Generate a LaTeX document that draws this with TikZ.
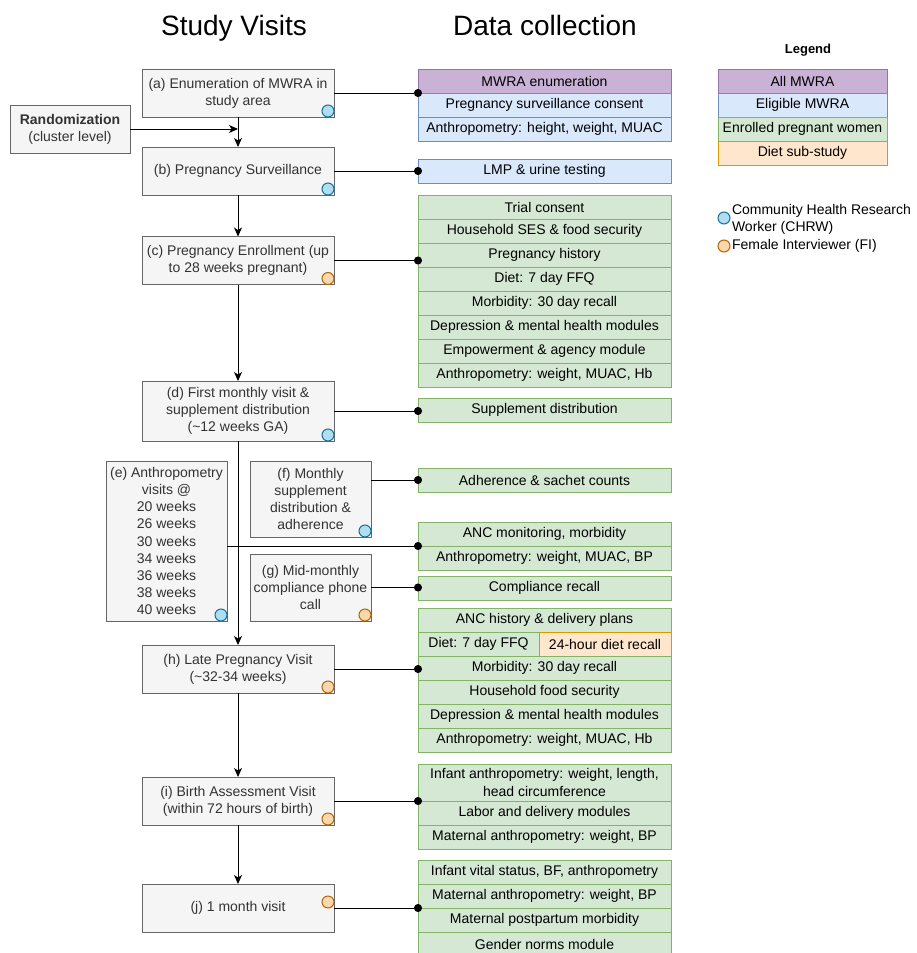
\documentclass[tikz,border=0pt]{standalone}
\usepackage{fontspec}
\setmainfont{Liberation Sans}
\usetikzlibrary{arrows.meta,calc}
\definecolor{gfill}{HTML}{F5F5F5}
\definecolor{gdraw}{HTML}{666666}
\definecolor{gtext}{HTML}{333333}
\definecolor{pfill}{HTML}{C9B2D6}
\definecolor{pdraw}{HTML}{9673A6}
\definecolor{bfill}{HTML}{DAE8FC}
\definecolor{bdraw}{HTML}{6C8EBF}
\definecolor{grfill}{HTML}{D5E8D4}
\definecolor{grdraw}{HTML}{82B366}
\definecolor{ofill}{HTML}{FFE6CC}
\definecolor{odraw}{HTML}{D79B00}
\definecolor{cbfill}{HTML}{B1DDF0}
\definecolor{cbdraw}{HTML}{10739E}
\definecolor{cofill}{HTML}{FAD7AC}
\definecolor{codraw}{HTML}{B46504}
\begin{document}
\begin{tikzpicture}[x=1pt,y=-1pt,
  every node/.style={font=\fontsize{14}{17.2}\selectfont, outer sep=0pt},
  visit/.style={draw=gdraw, fill=gfill, text=gtext, align=center, inner sep=0pt, line width=1pt},
  datarow/.style={draw, inner sep=0pt, anchor=north west, minimum width=253pt, minimum height=24pt, line width=1pt, align=center},
  rowP/.style={datarow, fill=pfill, draw=pdraw},
  rowB/.style={datarow, fill=bfill, draw=bdraw},
  rowG/.style={datarow, fill=grfill, draw=grdraw},
  rowO/.style={datarow, fill=ofill, draw=odraw},
  conn/.style={line width=1pt, black},
  arr/.style={conn, -{Stealth[length=9pt,width=8pt,inset=2.5pt]}},
  dotted end/.style={conn, -{Circle[length=8pt]}, shorten >=-4pt},
  chrw/.style={circle, draw=cbdraw, fill=cbfill, minimum size=12pt, inner sep=0pt, line width=1pt},
  fiw/.style={circle, draw=codraw, fill=cofill, minimum size=12pt, inner sep=0pt, line width=1pt},
]
\path[use as bounding box, clip] (0,0) rectangle (917,953);

% titles
\node[font=\fontsize{28}{33}\selectfont, anchor=base] (t1) at (234,35) {Study Visits};
\node[font=\fontsize{28}{33}\selectfont, anchor=base] (t2) at (545,35) {Data collection};
\node[font=\bfseries\fontsize{13}{15}\selectfont] (lt) at (808,50) {Legend};

% study visits
\node[visit, minimum width=192pt, minimum height=48pt] (a) at (238,93) {(a) Enumeration of MWRA in\\study area};
\node[visit, minimum width=120pt, minimum height=48pt] (rand) at (70,129) {\textbf{Randomization}\\(cluster level)};
\node[visit, minimum width=192pt, minimum height=48pt] (b) at (238,171) {(b) Pregnancy Surveillance};
\node[visit, minimum width=192pt, minimum height=48pt] (c) at (238,260.5) {(c) Pregnancy Enrollment (up\\to 28 weeks pregnant)};
\node[visit, minimum width=192pt, minimum height=60pt] (d) at (238,411) {(d) First monthly visit \&\\supplement distribution\\(\textasciitilde12 weeks GA)};
\node[visit, minimum width=121pt, minimum height=160pt] (e) at (166.5,541) {(e) Anthropometry\\visits @\\20 weeks\\26 weeks\\30 weeks\\34 weeks\\36 weeks\\38 weeks\\40 weeks};
\node[visit, minimum width=121pt, minimum height=76pt] (f) at (310.5,499) {(f) Monthly\\supplement\\distribution \&\\adherence};
\node[visit, minimum width=121pt, minimum height=67pt] (g) at (310.5,587.5) {(g) Mid-monthly\\compliance phone\\call};
\node[visit, minimum width=192pt, minimum height=48pt] (h) at (238,669) {(h) Late Pregnancy Visit\\(\textasciitilde32-34 weeks)};
\node[visit, minimum width=192pt, minimum height=48pt] (i) at (238,801) {(i) Birth Assessment Visit\\(within 72 hours of birth)};
\node[visit, minimum width=192pt, minimum height=48pt] (j) at (238,908) {(j) 1 month visit};

% worker circles
\node[chrw] (ca) at (328,111) {};
\node[chrw] (cb) at (328,189) {};
\node[fiw]  (cc) at (328,278.5) {};
\node[chrw] (cd) at (328,435) {};
\node[chrw] (ce) at (221,615) {};
\node[chrw] (cf) at (365,531) {};
\node[fiw]  (cg) at (365,615) {};
\node[fiw]  (ch) at (328,687) {};
\node[fiw]  (ci) at (328,819) {};
\node[fiw]  (cj) at (328,902) {};

% data collection
\node[rowP] (a1) at (418,69) {MWRA enumeration};
\node[rowB] (a2) at (418,93) {Pregnancy surveillance consent};
\node[rowB] (a3) at (418,117) {Anthropometry: height, weight, MUAC};

\node[rowB] (b1) at (418,159) {LMP \& urine testing};

\node[rowG] (c1) at (418,195) {Trial consent};
\node[rowG] (c2) at (418,219) {Household SES \& food security};
\node[rowG] (c3) at (418,243) {Pregnancy history};
\node[rowG] (c4) at (418,267) {Diet: 7 day FFQ};
\node[rowG] (c5) at (418,291) {Morbidity: 30 day recall};
\node[rowG] (c6) at (418,315) {Depression \& mental health modules};
\node[rowG] (c7) at (418,339) {Empowerment \& agency module};
\node[rowG] (c8) at (418,363) {Anthropometry: weight, MUAC, Hb};

\node[rowG] (d1) at (418,398) {Supplement distribution};
\node[rowG] (f1) at (418,468) {Adherence \& sachet counts};
\node[rowG] (e1) at (418,522) {ANC monitoring, morbidity};
\node[rowG] (e2) at (418,546) {Anthropometry: weight, MUAC, BP};
\node[rowG] (g1) at (418,576) {Compliance recall};

\node[rowG] (h1) at (418,608) {ANC history \& delivery plans};
\node[rowG, minimum width=121pt] (h2) at (418,632) {Diet: 7 day FFQ};
\node[rowO, minimum width=132pt] (h2b) at (539,632) {24-hour diet recall};
\node[rowG] (h3) at (418,656) {Morbidity: 30 day recall};
\node[rowG] (h4) at (418,680) {Household food security};
\node[rowG] (h5) at (418,704) {Depression \& mental health modules};
\node[rowG] (h6) at (418,728) {Anthropometry: weight, MUAC, Hb};

\node[rowG, minimum height=37pt] (i1) at (418,764) {Infant anthropometry: weight, length,\\head circumference};
\node[rowG] (i2) at (418,801) {Labor and delivery modules};
\node[rowG] (i3) at (418,825) {Maternal anthropometry: weight, BP};

\node[rowG] (j1) at (418,860) {Infant vital status, BF, anthropometry};
\node[rowG] (j2) at (418,884) {Maternal anthropometry: weight, BP};
\node[rowG] (j3) at (418,908) {Maternal postpartum morbidity};
\node[rowG] (j4) at (418,932) {Gender norms module};

% legend
\node[rowP, minimum width=169pt] (l1) at (718,69) {All MWRA};
\node[rowB, minimum width=169pt] (l2) at (718,93) {Eligible MWRA};
\node[rowG, minimum width=169pt] (l3) at (718,117) {Enrolled pregnant women};
\node[rowO, minimum width=169pt] (l4) at (718,141) {Diet sub-study};
\node[chrw] (lc1) at (724,218) {};
\node[fiw]  (lc2) at (724,246) {};
\node[anchor=west, align=left, inner sep=0pt] (lx1) at (732,219) {Community Health Research\\Worker (CHRW)};
\node[anchor=west, align=left, inner sep=0pt] (lx2) at (732,246) {Female Interviewer (FI)};

% flow arrows
\draw[arr] (a.south) -- (b.north);
\draw[arr] (rand.east) -- (rand.east -| a.south);
\draw[arr] (b.south) -- (c.north);
\draw[arr] (c.south) -- (d.north);
\draw[arr] (d.south) -- (h.north);
\draw[arr] (h.south) -- (i.north);
\draw[arr] (i.south) -- (j.north);

% data connectors
\draw[dotted end] (a.east) -- (a.east -| a1.west);
\draw[dotted end] (b.east) -- (b.east -| b1.west);
\draw[dotted end] (c.east) -- (c.east -| c3.west);
\draw[dotted end] (d.east) -- (d.east -| d1.west);
\draw[dotted end] (f1.west -| f.east) -- (f1.west);
\draw[dotted end] (e1.south west -| e.east) -- (e1.south west);
\draw[dotted end] (g.east) -- (g.east -| g1.west);
\draw[dotted end] (h.east) -- (h.east -| h3.west);
\draw[dotted end] (i.east) -- (i.east -| i1.west);
\draw[dotted end] (j.east) -- (j.east -| j2.west);
\end{tikzpicture}
\end{document}
